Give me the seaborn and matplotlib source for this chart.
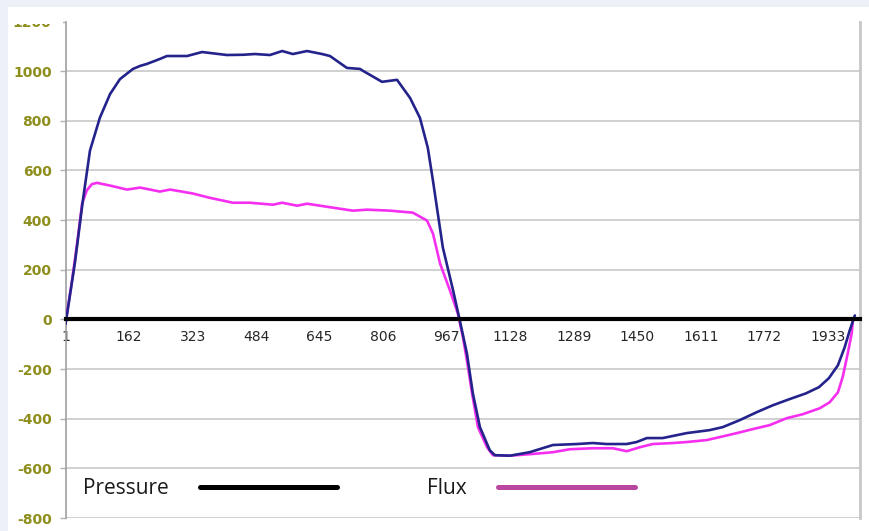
import matplotlib
matplotlib.use("Agg")
import matplotlib.pyplot as plt
from matplotlib.patches import Rectangle
from matplotlib.lines import Line2D
import seaborn as sns
import pandas as pd

# ---- data (sample index, value) ----
pressure_x = [1, 25, 45, 63, 88, 114, 139, 172, 190, 207, 240, 258, 309, 347, 410, 451,
              481, 519, 550, 577, 613, 651, 671, 714, 747, 755, 803, 841, 874, 899, 919,
              932, 957, 983, 1000, 1018, 1033, 1051, 1076, 1089, 1127, 1177, 1236, 1297,
              1337, 1372, 1423, 1448, 1474, 1514, 1575, 1633, 1666, 1709, 1752, 1793,
              1834, 1877, 1910, 1935, 1958, 1975, 1988, 2001]
pressure_y = [-20, 230, 479, 680, 812, 908, 968, 1009, 1021, 1029, 1049, 1061, 1061, 1077,
              1065, 1066, 1069, 1065, 1081, 1069, 1081, 1069, 1061, 1013, 1009, 1001, 957,
              965, 892, 812, 691, 559, 290, 117, -4, -137, -297, -434, -527, -547, -549,
              -535, -506, -502, -498, -502, -502, -494, -478, -478, -458, -446, -434, -406,
              -374, -346, -322, -298, -273, -237, -185, -113, -44, 16]

flux_x = [1, 17, 30, 43, 55, 68, 81, 114, 157, 190, 240, 266, 324, 366, 425, 468, 527,
          550, 588, 613, 679, 729, 765, 823, 881, 917, 932, 950, 975, 995, 1008, 1018,
          1031, 1046, 1069, 1084, 1127, 1177, 1236, 1279, 1337, 1388, 1423, 1456, 1489,
          1540, 1575, 1626, 1659, 1702, 1742, 1785, 1828, 1869, 1912, 1937, 1958, 1970,
          1983, 1993, 1996]
flux_y = [-15, 150, 300, 466, 520, 545, 550, 539, 523, 531, 515, 523, 507, 490, 470, 470,
          462, 470, 458, 466, 450, 438, 442, 438, 430, 398, 346, 225, 117, 24, -72, -165,
          -297, -434, -515, -547, -549, -543, -535, -523, -519, -519, -531, -515, -502,
          -498, -494, -486, -474, -458, -442, -426, -398, -382, -358, -334, -294, -233,
          -137, -56, -4]

x_ticks = [1, 162, 323, 484, 645, 806, 967, 1128, 1289, 1450, 1611, 1772, 1933]
y_ticks = [-800, -600, -400, -200, 0, 200, 400, 600, 800, 1000, 1200]
series_names = ["Pressure", "Flux"]

pressure_df = pd.DataFrame({"sample": pressure_x, "value": pressure_y})
flux_df = pd.DataFrame({"sample": flux_x, "value": flux_y})

sns.set_style("white")
plt.rcParams["font.family"] = ["DejaVu Sans"]

W, H = 870, 531
fig = plt.figure(figsize=(8.7, 5.31), dpi=100, facecolor="#eef0f7")
# white panel
fig.patches.append(Rectangle((8 / W, 0), 1, (H - 7) / H, transform=fig.transFigure,
                             facecolor="white", edgecolor="none", zorder=-10))

ax = fig.add_axes([65.5 / W, 13 / H, (860 - 65.5) / W, (518 - 21.5) / H])
ax.set_facecolor("white")

sns.lineplot(data=pressure_df, x="sample", y="value", ax=ax, color="#24238c",
             linewidth=1.9, estimator=None, sort=False, zorder=4)
sns.lineplot(data=flux_df, x="sample", y="value", ax=ax, color="#f52ff0",
             linewidth=1.9, estimator=None, sort=False, zorder=3)

ax.set_xlim(1, 2014)
ax.set_ylim(-800, 1200)
ax.set_xlabel("")
ax.set_ylabel("")

ax.set_xticks(x_ticks)
ax.set_xticklabels([str(t) for t in x_ticks], fontsize=11, color="#404040",
                   family="Liberation Sans")
ax.set_yticks(y_ticks)
ax.set_yticklabels([str(t) for t in y_ticks], fontsize=10, fontweight="bold",
                   color="#8e8e1c")

ax.tick_params(axis="x", length=0, pad=7.5)
ax.tick_params(axis="y", length=4, width=1, color="#b0b0b0", pad=6, left=True)

ax.grid(axis="y", color="#c4c4c4", linewidth=1.1)
ax.grid(axis="x", visible=False)
ax.set_axisbelow(True)
fig.canvas.draw()
ax.yaxis.get_gridlines()[-1].set_visible(False)

ax.spines["top"].set_visible(False)
ax.spines["left"].set_color("#a0a0a0")
ax.spines["left"].set_linewidth(1.2)
ax.spines["right"].set_color("#c8c8c8")
ax.spines["right"].set_linewidth(2)
ax.spines["bottom"].set_position(("data", 0))
ax.spines["bottom"].set_color("black")
ax.spines["bottom"].set_linewidth(3)
ax.spines["bottom"].set_zorder(5)

handles = [Line2D([], [], color="black", linewidth=3.6),
           Line2D([], [], color="#b9479f", linewidth=3.6)]
leg = ax.legend(handles, series_names, ncol=2, markerfirst=False, frameon=False,
                loc="center left", bbox_to_anchor=(0.022, 0.0585),
                bbox_transform=ax.transAxes, borderaxespad=0, borderpad=0,
                handlelength=6.6, handletextpad=1.5, columnspacing=4.3,
                prop={"family": "Open Sans", "size": 15})
for t in leg.get_texts():
    t.set_color("#1a1a1a")

# clip the top tick label like the reference
fig.patches.append(Rectangle((8 / W, (H - 23.5) / H), 55 / W, 17 / H,
                             transform=fig.transFigure, facecolor="white",
                             edgecolor="none", zorder=10))

fig.savefig("out.png", dpi=100, facecolor=fig.get_facecolor())
